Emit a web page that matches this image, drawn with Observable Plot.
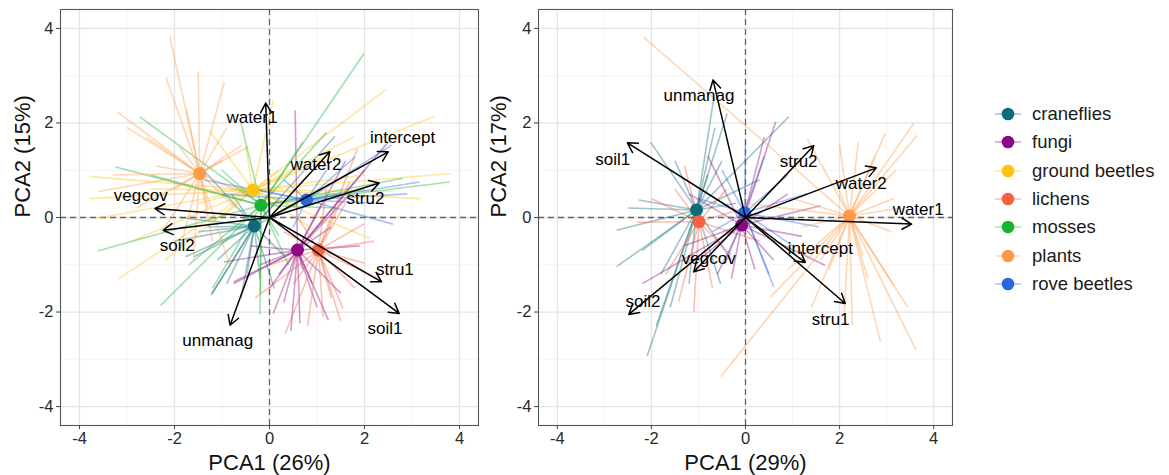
<!DOCTYPE html>
<html><head><meta charset="utf-8">
<script src="https://cdn.jsdelivr.net/npm/d3@7"></script>
<script src="https://cdn.jsdelivr.net/npm/@observablehq/plot@0.6"></script>
<style>
body{margin:0;background:#fff;font-family:"Liberation Sans",Arial,sans-serif;}
#wrap{position:relative;width:1169px;height:475px;overflow:hidden;}
#p1{position:absolute;left:0;top:0;}
#p2{position:absolute;left:480px;top:0;}
#legend{position:absolute;left:992px;top:100px;}
.row{display:flex;align-items:center;height:28.3px;}
.row span{font-size:18.5px;color:#1a1a1a;margin-left:8px;}
</style></head><body>
<div id="wrap"><div id="p1"></div><div id="p2"></div><div id="legend"></div></div>
<script>
// ---------- categories & colours ----------
const groups = ["craneflies","fungi","ground beetles","lichens","mosses","plants","rove beetles"];
const groupColors = ["#0F6B7B","#8B0A84","#FFC20E","#F4623F","#1AB232","#FF9B45","#2766DE"];
const ticks = [-4,-2,0,2,4];
const tickLabels = ["-4","-2","0","2","4"];
const minorTicks = [-3,-1,1,3];

// ---------- panel 1 ----------
const title1X = "PCA1 (26%)", title1Y = "PCA2 (15%)";
const vars1   = ["water1","water2","intercept","stru2","stru1","soil1","unmanag","soil2","vegcov"];
const load1X  = [-0.08, 1.27, 2.50, 2.31, 2.36, 2.73, -0.83, -2.24, -2.41];
const load1Y  = [ 2.42, 1.39, 1.39, 0.73,-1.36,-2.03, -2.28, -0.27,  0.19];
const lab1X   = [-0.37, 0.98, 2.80, 2.02, 2.64, 2.43, -1.09, -1.94, -2.71];
const lab1Y   = [ 2.12, 1.11, 1.69, 0.40,-1.10,-2.35, -2.60, -0.60,  0.47];
const cent1Group = ["craneflies","fungi","ground beetles","lichens","mosses","plants","rove beetles"];
const cent1X  = [-0.32, 0.59, -0.35, 1.03, -0.18, -1.47, 0.78];
const cent1Y  = [-0.18,-0.69,  0.58,-0.69,  0.26,  0.93, 0.37];
const sp1_craneflies = [[-1.23,-1.64],[-1.77,-0.83],[-1.59,-0.83],[-1.21,-1.61],[-0.47,-1.19],[1.38,1.72],[-1.45,1.07],[-1.5,-0.3],[0.3,-0.8],[0.1,-1.5],[-0.9,-1.4],[-0.6,-1.7],[-2.0,-0.5],[-1.9,0.0],[0.6,0.3],[-0.8,0.5],[-0.2,-1.3],[-1.1,-0.9],[0.2,0.4],[-1.3,-0.2]];
const sp1_fungi = [[2.5,1.6],[0.54,2.27],[0.64,-2.24],[0.08,-2.03],[-0.76,-1.40],[1.24,-2.17],[-0.96,-0.94],[-0.75,-1.36],[1.9,-0.6],[1.5,-1.6],[0.3,-1.8],[1.0,-1.9],[0.2,-1.2],[1.7,0.5],[1.1,0.3],[-0.4,-0.6],[0.9,-1.4],[1.3,-0.2],[0.0,-1.5],[0.7,-1.1],[2.0,1.0],[-0.2,-1.0],[0.45,-2.4],[1.6,1.2]];
const sp1_groundbeetles = [[3.48,2.14],[2.46,2.71],[3.83,0.93],[3.17,0.40],[2.11,-0.44],[-3.80,0.87],[-3.78,0.40],[-3.20,-1.31],[-3.66,-0.02],[-1.26,1.83],[1.78,1.71],[0.08,2.48],[1.2,1.3],[2.0,0.9],[-2.5,0.6],[-2.9,-0.5],[-2.2,-0.9],[-1.5,0.3],[0.6,0.2],[1.0,-0.3],[-0.5,1.5],[2.6,0.55],[-1.0,0.0],[0.2,1.0]];
const sp1_lichens = [[1.69,0.75],[1.85,1.45],[2.0,-0.97],[1.55,-1.93],[0.33,-2.46],[1.13,-2.10],[2.0,-0.13],[0.8,-2.3],[1.3,-1.7],[-0.3,-1.7],[0.3,-0.3],[1.6,0.3],[2.2,-0.5],[0.5,-1.4],[0.0,-1.0],[1.2,0.6],[2.3,-1.3],[0.6,0.0],[1.8,-1.5],[1.5,-2.2]];
const sp1_mosses = [[1.99,3.47],[-2.73,2.13],[-3.24,1.07],[-3.62,-0.71],[-2.29,-1.86],[3.79,0.75],[2.81,0.83],[-0.19,-1.6],[-0.2,-2.05],[1.2,1.8],[0.7,1.6],[-1.7,-1.0],[-1.2,-1.5],[0.4,-1.0],[-2.5,0.9],[2.0,0.6],[-1.0,1.0],[1.4,0.2],[-0.6,2.0],[0.2,-0.4]];
const sp1_plants = [[-2.10,3.82],[-1.50,3.08],[-0.95,2.87],[-2.18,2.96],[-3.20,2.23],[-0.58,1.53],[-0.45,1.50],[-2.40,1.09],[-3.0,1.9],[-2.6,1.7],[-1.75,2.3],[-0.9,1.9],[-1.0,1.2],[-3.3,0.9],[-3.6,0.55],[-2.8,0.2],[-2.2,-0.2],[-1.87,-0.62],[-1.6,-0.9],[-1.2,-0.5],[-0.82,-1.05],[-0.7,0.2],[-0.3,0.4],[-1.9,1.5],[-1.3,0.2],[-2.0,0.6]];
const sp1_rovebeetles = [[3.16,0.75],[2.6,-0.14],[2.57,1.53],[1.80,1.28],[-1.4,0.8],[-1.0,0.5],[2.2,0.3],[1.5,0.5],[0.3,0.8],[0.5,-0.2],[1.2,1.0],[-0.3,0.6],[2.9,0.5]];
const spiders1 = {"craneflies":sp1_craneflies,"fungi":sp1_fungi,"ground beetles":sp1_groundbeetles,"lichens":sp1_lichens,"mosses":sp1_mosses,"plants":sp1_plants,"rove beetles":sp1_rovebeetles};

// ---------- panel 2 ----------
const title2X = "PCA1 (29%)", title2Y = "PCA2 (17%)";
const vars2   = ["unmanag","soil1","stru2","water2","water1","intercept","stru1","vegcov","soil2"];
const load2X  = [-0.69,-2.51, 1.45, 2.78, 3.53, 1.27, 2.12,-1.10,-2.48];
const load2Y  = [ 2.91, 1.58, 1.52, 1.05,-0.14,-0.95,-1.82,-1.15,-2.05];
const lab2X   = [-0.99,-2.82, 1.13, 2.46, 3.67, 1.59, 1.81,-0.78,-2.18];
const lab2Y   = [ 2.57, 1.23, 1.18, 0.72, 0.17,-0.66,-2.15,-0.87,-1.78];
const cent2Group = ["craneflies","lichens","rove beetles","fungi","plants"];
const cent2X  = [-1.04,-0.99,-0.02,-0.08, 2.21];
const cent2Y  = [ 0.16,-0.09, 0.10,-0.16, 0.03];
const sp2_craneflies = [[-2.09,-2.93],[-2.74,-1.04],[-2.74,-0.27],[-2.27,0.37],[-2.02,1.6],[-0.67,2.55],[-0.39,2.20],[0.92,2.13],[-0.53,-1.4],[-1.6,-1.9],[-0.5,1.2],[0.3,0.8],[-1.5,1.2],[-2.2,-0.7],[-0.3,-0.9],[-1.2,-1.4],[-0.8,0.9],[-2.5,0.2],[-0.2,0.3],[-1.8,-1.2],[-0.65,1.9],[-1.9,-2.3]];
const sp2_lichens = [[-1.10,-2.0],[-1.42,-1.78],[-1.3,1.1],[-2.0,0.4],[-2.3,-0.1],[-0.3,-0.8],[-0.4,0.6],[-1.7,-1.2],[-0.7,-1.5],[0.0,0.2],[-1.5,0.6],[0.3,-0.5]];
const sp2_fungi = [[0.64,2.02],[-2.19,-1.40],[1.69,-1.01],[1.6,0.25],[-1.0,-0.9],[-0.3,-1.3],[0.6,-0.9],[-0.8,1.3],[0.4,1.7],[-0.6,-1.2],[0.9,0.5],[-1.3,-0.6],[0.2,-1.1],[1.2,-0.4],[-1.2,0.5]];
const sp2_rovebeetles = [[0.60,-1.47],[1.56,-0.20],[0.9,0.9],[1.3,0.5],[-0.5,1.0],[-1.0,0.4],[0.5,-1.2],[0.4,1.3],[-0.4,-0.9],[1.0,-0.6],[0.0,1.6],[-0.7,-0.3]];
const sp2_plants = [[-2.16,3.81],[-0.53,-3.37],[3.58,2.0],[3.65,1.74],[3.63,-2.81],[2.87,-2.63],[2.27,-2.28],[0.53,-1.68],[1.31,1.67],[3.15,-1.43],[1.77,-1.11],[2.97,1.78],[3.11,-0.30],[3.15,0.4],[1.6,-0.9],[2.0,1.55],[2.4,1.6],[1.9,0.8],[1.0,0.4],[3.3,0.2],[2.6,-1.3],[1.4,-1.9],[0.9,-1.1],[0.0,0.3],[2.1,-2.0],[3.2,1.0],[2.75,1.3],[1.2,-0.2],[3.45,-1.9],[2.5,-0.8]];
const spiders2 = {"craneflies":sp2_craneflies,"lichens":sp2_lichens,"rove beetles":sp2_rovebeetles,"fungi":sp2_fungi,"plants":sp2_plants};

const FONT = '"Liberation Sans", Arial, sans-serif';
const fmtTick = d => tickLabels[ticks.indexOf(d)];

function panel({marginLeft, marginRight, width, titleX, titleY, titleYdx, vars, lx, ly, tx, ty, cg, cx, cy, spiders}) {
  const cents = cg.map((g,i)=>({group:g, x:cx[i], y:cy[i]}));
  const segs = [];
  cents.forEach(c => (spiders[c.group]||[]).forEach(([ex,ey]) => segs.push({group:c.group, x1:c.x, y1:c.y, x2:ex, y2:ey})));
  const loads = vars.map((v,i)=>({name:v, x:lx[i], y:ly[i], tx:tx[i], ty:ty[i]}));
  return Plot.plot({
    width, height: 475,
    marginLeft, marginRight, marginTop: 9, marginBottom: 50,
    style: {fontFamily: FONT, background: "#fff", overflow: "visible"},
    x: {domain: [-4.4, 4.4]},
    y: {domain: [-4.4, 4.4]},
    color: {domain: groups, range: groupColors},
    marks: [
      Plot.ruleX(minorTicks, {stroke: "#F2F2F2", strokeWidth: 0.8}),
      Plot.ruleY(minorTicks, {stroke: "#F2F2F2", strokeWidth: 0.8}),
      Plot.ruleX(ticks, {stroke: "#E4E4E4", strokeWidth: 1.3}),
      Plot.ruleY(ticks, {stroke: "#E4E4E4", strokeWidth: 1.3}),
      Plot.ruleX([0], {stroke: "#666", strokeWidth: 1.3, strokeDasharray: "6,4"}),
      Plot.ruleY([0], {stroke: "#666", strokeWidth: 1.3, strokeDasharray: "6,4"}),
      Plot.link(segs, {x1: "x1", y1: "y1", x2: "x2", y2: "y2", stroke: "group", strokeOpacity: 0.4, strokeWidth: 1.6}),
      Plot.dot(cents, {x: "x", y: "y", fill: "group", r: 6.5}),
      Plot.arrow(loads, {x1: () => 0, y1: () => 0, x2: "x", y2: "y", stroke: "black", strokeWidth: 1.5, headLength: 11, headAngle: 60}),
      Plot.text(loads, {x: "tx", y: "ty", text: "name", fontSize: 17, fill: "#000"}),
      Plot.frame({stroke: "#555", strokeWidth: 1.1}),
      Plot.axisX(ticks, {tickSize: 4, tickPadding: 3, fontSize: 16.5, label: null, stroke: "#444", fill: "#2a2a2a", tickFormat: fmtTick}),
      Plot.axisY(ticks, {tickSize: 4, tickPadding: 3, fontSize: 16.5, label: null, stroke: "#444", fill: "#2a2a2a", tickFormat: fmtTick}),
      Plot.text([titleX], {frameAnchor: "bottom", dy: 37, lineAnchor: "middle", fontSize: 22, fill: "#111"}),
      Plot.text([titleY], {frameAnchor: "left", dx: titleYdx, rotate: -90, lineAnchor: "middle", fontSize: 22, fill: "#111"})
    ]
  });
}

document.getElementById("p1").appendChild(panel({
  marginLeft: 60, marginRight: 2, width: 480, titleX: title1X, titleY: title1Y, titleYdx: -38,
  vars: vars1, lx: load1X, ly: load1Y, tx: lab1X, ty: lab1Y, cg: cent1Group, cx: cent1X, cy: cent1Y, spiders: spiders1
}));
document.getElementById("p2").appendChild(panel({
  marginLeft: 58, marginRight: 8, width: 480, titleX: title2X, titleY: title2Y, titleYdx: -40,
  vars: vars2, lx: load2X, ly: load2Y, tx: lab2X, ty: lab2Y, cg: cent2Group, cx: cent2X, cy: cent2Y, spiders: spiders2
}));

// ---------- legend ----------
const leg = document.getElementById("legend");
groups.forEach((g,i) => {
  const row = document.createElement("div");
  row.className = "row";
  row.innerHTML = `<svg width="32" height="20"><line x1="3" x2="29" y1="10" y2="10" stroke="${groupColors[i]}" stroke-opacity="0.4" stroke-width="1.5"/><circle cx="16" cy="10" r="6.3" fill="${groupColors[i]}"/></svg><span>${g}</span>`;
  leg.appendChild(row);
});
</script>
</body></html>
